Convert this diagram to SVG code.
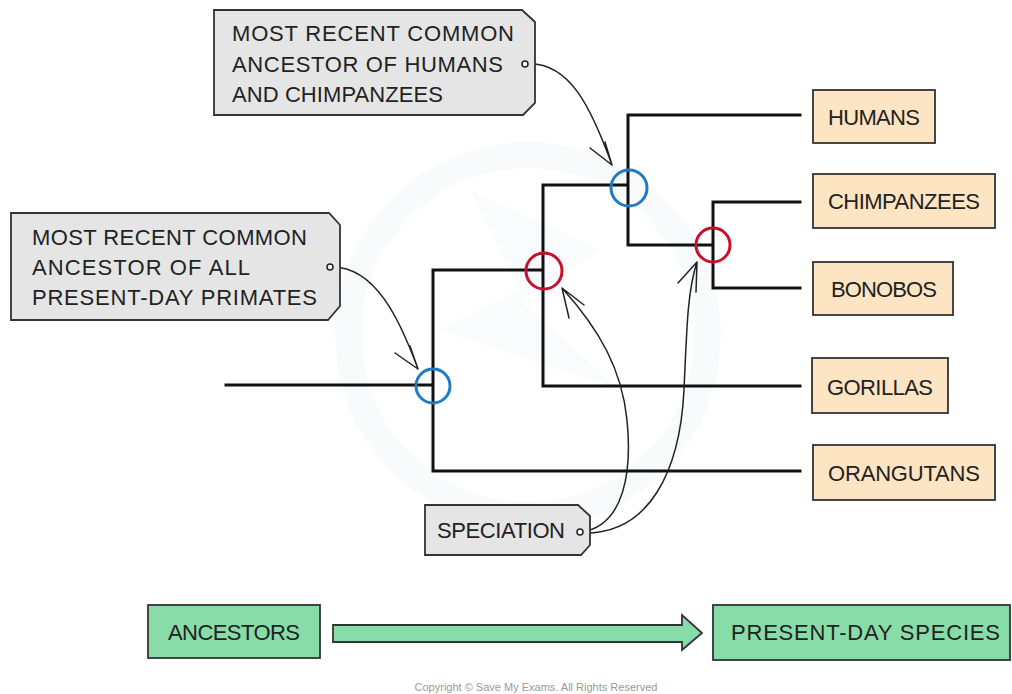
<svg xmlns="http://www.w3.org/2000/svg" width="1012" height="694" viewBox="0 0 1012 694">
<defs>
<style>
.t{font-family:"Liberation Sans",Arial,sans-serif;font-size:22px;fill:#222;}
.tree{fill:none;stroke:#111;stroke-width:3;stroke-linecap:square;}
.blue{fill:none;stroke:#1f7bc4;stroke-width:3;}
.red{fill:none;stroke:#c8102e;stroke-width:3;}
.callout{fill:#e5e5e5;stroke:#333;stroke-width:1.8;}
.sp{fill:#fde4c2;stroke:#333;stroke-width:1.8;}
.green{fill:#88dca8;stroke:#333;stroke-width:1.8;}
.lead{fill:none;stroke:#222;stroke-width:1.5;stroke-linecap:round;}
.dot{fill:#fff;stroke:#222;stroke-width:1.5;}
</style>
</defs>
<rect width="1012" height="694" fill="#fff"/>
<g id="watermark" opacity="0.4">
<circle cx="528" cy="335" r="180" fill="none" stroke="#eef5fa" stroke-width="26"/>
<path d="M470 190 L600 250 L520 300 L620 390 L440 330 L520 290 Z" fill="#f2f6f9"/>
</g>
<g id="connectors">
<path class="tree" d="M226 385 H433 M433 270 V471 M433 270 H543 M433 471 H800 M543 185 V386 M543 185 H628 M543 386 H800 M628 115 V245 M628 115 H800 M628 245 H713 M713 202 V288 M713 202 H800 M713 288 H800"/>
<path class="lead" d="M525 64 C 570 60 592 110 612 165 M612 165 L590 148 M612 165 L605 142"/>
<path class="lead" d="M330 267 C 375 265 400 320 418 369 M418 369 L395 353 M418 369 L410 346"/>
<path class="lead" d="M582 532 C 625 525 632 470 627 420 C 622 370 600 330 562 288 M562 288 L569 318 M562 288 L584 305"/>
<path class="lead" d="M582 533 C 650 535 680 470 684 390 C 687 320 688 290 697 262 M697 262 L678 283 M697 262 L696 292"/>
<path class="green" d="M333 625 H682 V615 L702 633 L682 650 V642 H333 Z"/>
</g>
<g id="node-root"><circle class="blue" cx="433" cy="386" r="17"/></g>
<g id="node-great-apes"><circle class="red" cx="544" cy="271" r="18"/></g>
<g id="node-humans-chimps"><circle class="blue" cx="629" cy="188" r="18"/></g>
<g id="node-chimps-bonobos"><circle class="red" cx="713" cy="245" r="17"/></g>
<g id="callout-humans-chimps">
<path class="callout" d="M214 10 H522 L535 22 V103 L523 115 H214 Z"/>
<text class="t" x="232" y="41" textLength="282" lengthAdjust="spacing">MOST RECENT COMMON</text>
<text class="t" x="232" y="72" textLength="271" lengthAdjust="spacing">ANCESTOR OF HUMANS</text>
<text class="t" x="232" y="102" textLength="211" lengthAdjust="spacing">AND CHIMPANZEES</text>
<circle class="dot" cx="525" cy="64" r="3"/>
</g>
<g id="callout-primates">
<path class="callout" d="M11 213 H329 L340 225 V306 L328 320 H11 Z"/>
<text class="t" x="32" y="245" textLength="275" lengthAdjust="spacing">MOST RECENT COMMON</text>
<text class="t" x="32" y="275" textLength="218" lengthAdjust="spacing">ANCESTOR OF ALL</text>
<text class="t" x="32" y="305" textLength="285" lengthAdjust="spacing">PRESENT-DAY PRIMATES</text>
<circle class="dot" cx="330" cy="267" r="3"/>
</g>
<g id="callout-speciation">
<path class="callout" d="M425 505 H578 L590 516 V545 L581 555 H425 Z"/>
<text class="t" x="437" y="538" textLength="128" lengthAdjust="spacing">SPECIATION</text>
<circle class="dot" cx="580" cy="532" r="3"/>
</g>
<g id="humans"><rect class="sp" x="813" y="90" width="122" height="53"/><text class="t" x="828" y="125" textLength="92" lengthAdjust="spacing">HUMANS</text></g>
<g id="chimpanzees"><rect class="sp" x="813" y="174" width="182" height="54"/><text class="t" x="828" y="209" textLength="152" lengthAdjust="spacing">CHIMPANZEES</text></g>
<g id="bonobos"><rect class="sp" x="813" y="262" width="140" height="53"/><text class="t" x="831" y="297" textLength="106" lengthAdjust="spacing">BONOBOS</text></g>
<g id="gorillas"><rect class="sp" x="812" y="358" width="136" height="55"/><text class="t" x="827" y="395" textLength="106" lengthAdjust="spacing">GORILLAS</text></g>
<g id="orangutans"><rect class="sp" x="813" y="445" width="182" height="55"/><text class="t" x="828" y="481" textLength="152" lengthAdjust="spacing">ORANGUTANS</text></g>
<g id="ancestors"><rect class="green" x="148" y="605" width="172" height="53"/><text class="t" x="168" y="640" textLength="132" lengthAdjust="spacing">ANCESTORS</text></g>
<g id="present-day"><rect class="green" x="713" y="605" width="297" height="55"/><text class="t" x="731" y="640" textLength="269" lengthAdjust="spacing">PRESENT-DAY SPECIES</text></g>
<text x="536" y="691" text-anchor="middle" font-family="'Liberation Sans',Arial,sans-serif" font-size="11" fill="#999">Copyright © Save My Exams. All Rights Reserved</text>
</svg>
